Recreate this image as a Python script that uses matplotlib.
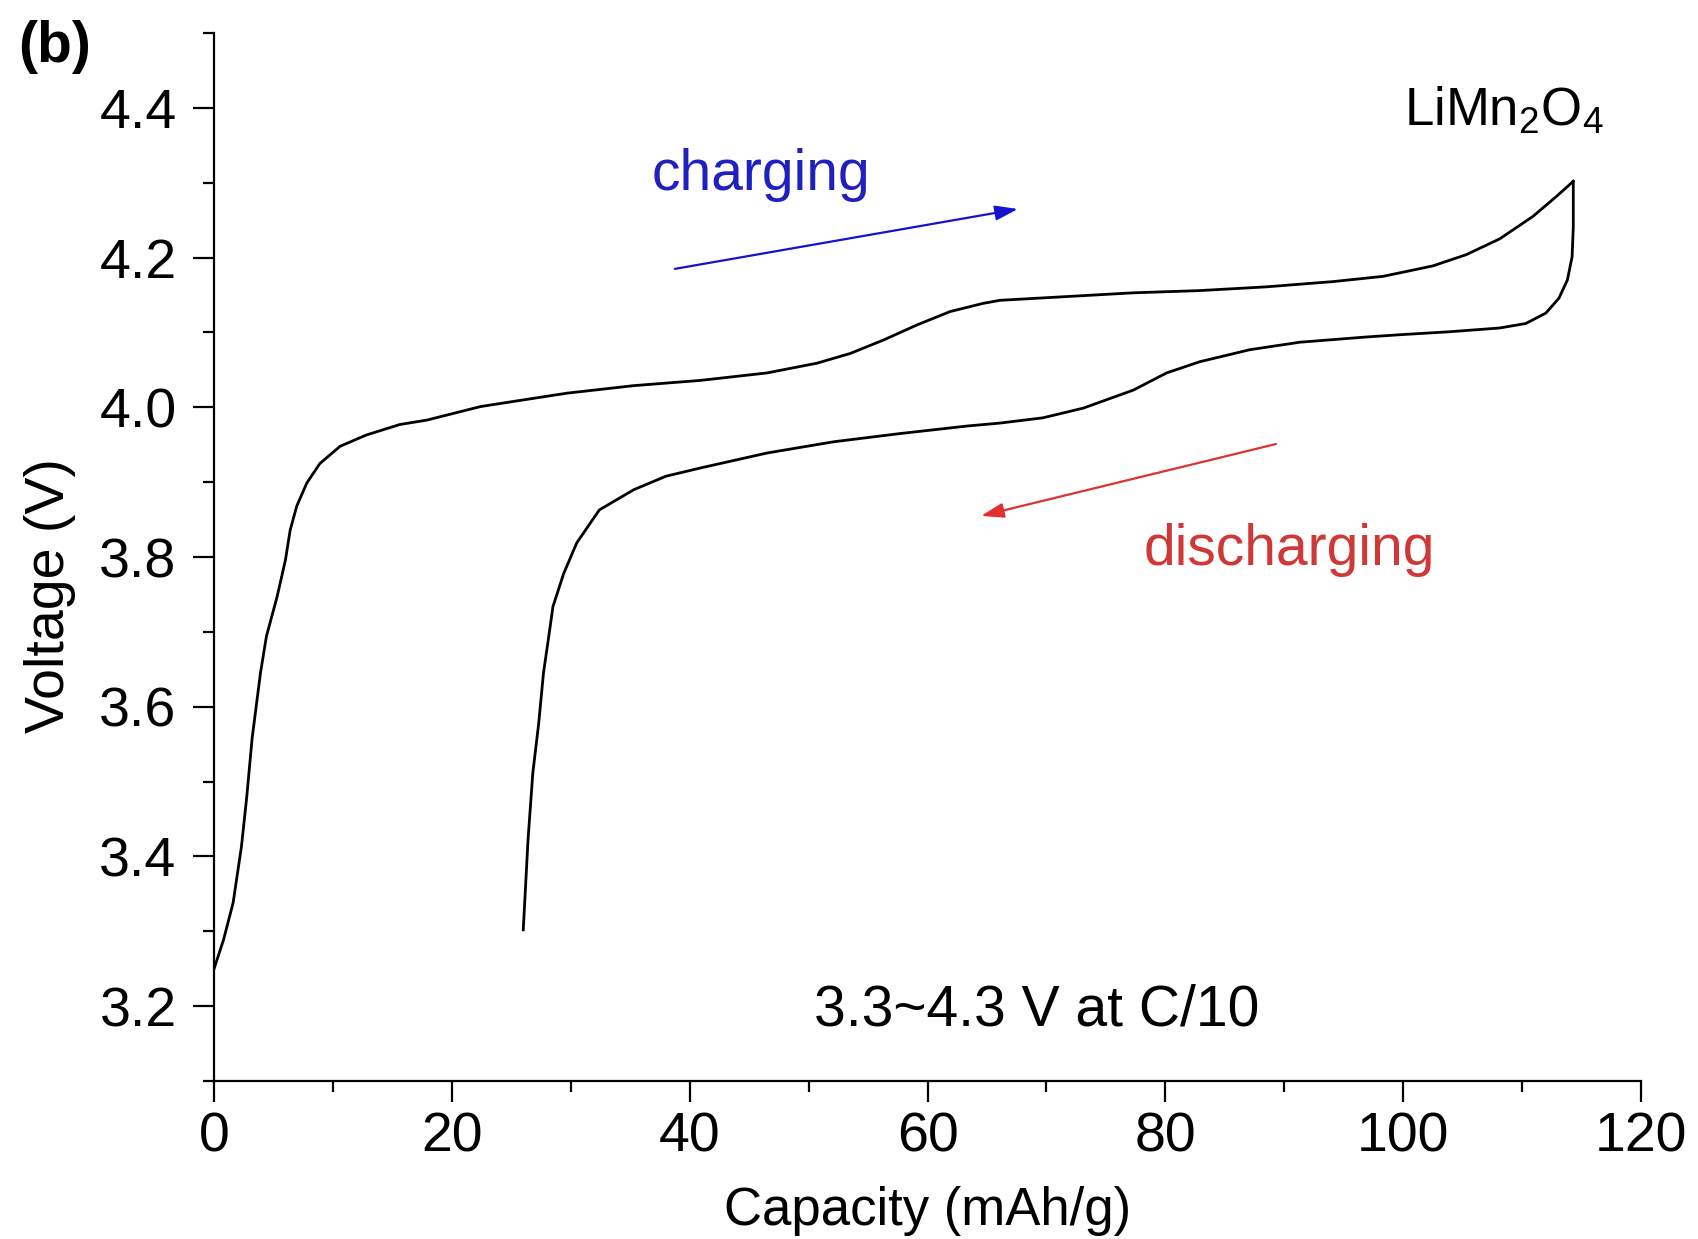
import matplotlib
matplotlib.use("Agg")
import matplotlib.pyplot as plt
from matplotlib.ticker import MultipleLocator, FormatStrFormatter

plt.rcParams['font.family'] = ['Liberation Sans', 'DejaVu Sans']
plt.rcParams['mathtext.default'] = 'regular'

# First-cycle galvanostatic data, LiMn2O4 half cell
charge_capacity = [0.0, 0.8, 1.6, 2.3, 2.75, 3.2, 3.9, 4.4, 5.3, 6.0, 6.4, 6.95,
                   7.8, 8.9, 10.6, 12.8, 15.6, 17.9, 22.4, 24.0, 29.7, 35.3,
                   40.9, 46.5, 50.7, 53.5, 56.3, 59.1, 61.9, 64.7, 66.1, 71.7,
                   77.3, 82.9, 88.5, 94.1, 98.3, 102.5, 105.3, 108.1, 110.9,
                   112.9, 114.3]
charge_voltage = [3.250, 3.289, 3.338, 3.413, 3.480, 3.558, 3.645, 3.694, 3.747,
                  3.796, 3.836, 3.868, 3.899, 3.925, 3.948, 3.963, 3.977, 3.983,
                  4.001, 4.005, 4.019, 4.029, 4.036, 4.046, 4.059, 4.072, 4.090,
                  4.110, 4.128, 4.139, 4.143, 4.148, 4.153, 4.156, 4.161, 4.168,
                  4.175, 4.189, 4.204, 4.225, 4.255, 4.282, 4.302]

discharge_capacity = [114.3, 114.3, 114.2, 113.8, 113.1, 112.0, 110.3, 108.1,
                      103.9, 99.7, 96.9, 91.3, 87.1, 82.9, 80.1, 77.3, 73.1,
                      69.7, 66.1, 63.3, 57.7, 52.1, 46.5, 40.9, 38.0, 35.3,
                      32.4, 30.5, 29.4, 28.5, 28.1, 27.7, 27.3, 26.8, 26.4, 26.0]
discharge_voltage = [4.302, 4.241, 4.201, 4.170, 4.146, 4.126, 4.112, 4.106,
                     4.101, 4.097, 4.094, 4.087, 4.077, 4.061, 4.046, 4.023,
                     3.999, 3.986, 3.979, 3.975, 3.965, 3.954, 3.939, 3.919,
                     3.908, 3.890, 3.863, 3.819, 3.778, 3.734, 3.689, 3.645,
                     3.578, 3.511, 3.422, 3.302]

x_label = "Capacity (mAh/g)"
y_label = "Voltage (V)"
material = "LiMn$_2$O$_4$"
condition = "3.3~4.3 V at C/10"

fig = plt.figure(figsize=(16.99, 12.39), dpi=100)
ax = fig.add_axes([0.126, 0.1275, 0.8399, 0.8458])

ax.plot(charge_capacity, charge_voltage, color='black', lw=2.0,
        solid_joinstyle='round')
ax.plot(discharge_capacity, discharge_voltage, color='black', lw=2.0,
        solid_joinstyle='round')

ax.set_xlim(0, 120)
ax.set_ylim(3.1, 4.5)
ax.xaxis.set_major_locator(MultipleLocator(20))
ax.xaxis.set_minor_locator(MultipleLocator(10))
ax.yaxis.set_major_locator(MultipleLocator(0.2))
ax.yaxis.set_minor_locator(MultipleLocator(0.1))
ax.yaxis.set_major_formatter(FormatStrFormatter('%.1f'))

for side in ('top', 'right'):
    ax.spines[side].set_visible(False)
for side in ('left', 'bottom'):
    ax.spines[side].set_linewidth(1.6)

ax.tick_params(which='major', direction='out', length=15, width=1.6,
               labelsize=40)
ax.tick_params(axis='y', which='major', pad=12)
ax.tick_params(axis='x', which='major', pad=7)
ax.tick_params(which='minor', direction='out', length=8, width=1.6)

ax.set_xlabel(x_label, fontsize=38)
ax.set_ylabel(y_label, fontsize=40)
ax.xaxis.set_label_coords(0.5, -0.100)
ax.yaxis.set_label_coords(-0.0967, 0.463)

# Direction annotations
ax.annotate('', xy=(67.6, 4.265), xytext=(38.75, 4.185),
            arrowprops=dict(arrowstyle='-|>,head_length=0.55,head_width=0.18',
                            color='#1414d0', lw=1.6, mutation_scale=25,
                            shrinkA=0, shrinkB=0))
ax.text(46.0, 4.291, 'charging', color='#2020c0', fontsize=41,
        ha='center', va='baseline')

ax.annotate('', xy=(64.5, 3.855), xytext=(89.3, 3.951),
            arrowprops=dict(arrowstyle='-|>,head_length=0.55,head_width=0.18',
                            color='#e03030', lw=1.6, mutation_scale=25,
                            shrinkA=0, shrinkB=0))
ax.text(90.4, 3.790, 'discharging', color='#d03838', fontsize=41,
        ha='center', va='baseline')

ax.text(100.1, 4.377, material, fontsize=38, ha='left', va='baseline')
ax.text(69.2, 3.174, condition, fontsize=41, ha='center', va='baseline')

fig.text(0.0106, 0.984, '(b)', fontsize=41, fontweight='bold',
         ha='left', va='top')

fig.savefig('out.png', dpi=100)
